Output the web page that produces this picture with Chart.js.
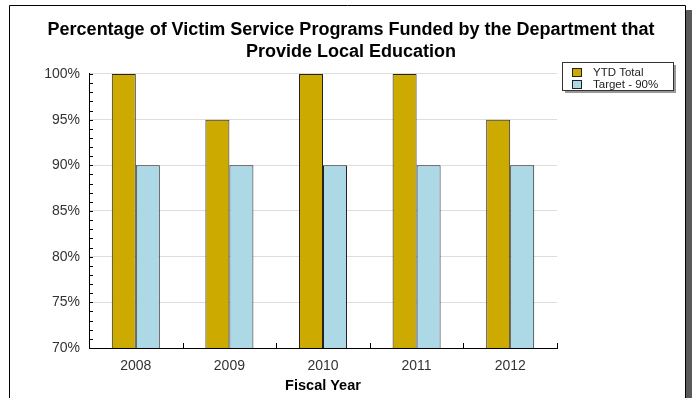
<!DOCTYPE html>
<html>
<head>
<meta charset="utf-8">
<script src="https://cdn.jsdelivr.net/npm/chart.js@4"></script>
<style>
  html, body { margin: 0; padding: 0; background: #fff; }
  #wrap { width: 694px; height: 398px; }
</style>
</head>
<body>
<div id="wrap"><canvas id="chart" width="694" height="398"></canvas></div>
<script>
// Dados
const years = ["2008", "2009", "2010", "2011", "2012"];
const ytdTotal = [100, 95, 100, 100, 95];
const target = [90, 90, 90, 90, 90];
const seriesNames = ["YTD Total", "Target - 90%"];
const titleLines = [
  "Percentage of Victim Service Programs Funded by the Department that",
  "Provide Local Education",
];

Chart.defaults.font.family = "'Liberation Sans', Arial, sans-serif";

// moldura com sombra
const framePlugin = {
  id: "frame",
  beforeDraw(chart) {
    const ctx = chart.ctx;
    ctx.save();
    ctx.fillStyle = "#fff";
    ctx.fillRect(0, 0, chart.width, chart.height);
    ctx.fillStyle = "#5a5a5a";
    ctx.fillRect(686, 10, 6, chart.height - 10);
    ctx.restore();
  },
  afterDraw(chart) {
    const ctx = chart.ctx;
    ctx.save();
    ctx.strokeStyle = "#000";
    ctx.lineWidth = 1;
    ctx.beginPath();
    ctx.moveTo(9.5, chart.height + 2);
    ctx.lineTo(9.5, 5.5);
    ctx.lineTo(685.5, 5.5);
    ctx.lineTo(685.5, chart.height + 2);
    ctx.stroke();
    ctx.restore();
  },
};

// marcas dos eixos (para dentro)
const ticksPlugin = {
  id: "innerTicks",
  afterDatasetsDraw(chart) {
    const ctx = chart.ctx;
    const x = chart.scales.x;
    const y = chart.scales.y;
    const area = chart.chartArea;
    ctx.save();
    ctx.strokeStyle = "#000";
    ctx.lineWidth = 1;
    ctx.beginPath();
    for (let v = y.min; v <= y.max; v++) {
      const py = Math.round(y.getPixelForValue(v)) + 0.5;
      ctx.moveTo(area.left, py);
      ctx.lineTo(area.left + 4, py);
    }
    for (let i = 0; i < years.length; i++) {
      const px = Math.round(x.getPixelForValue(i + 0.5)) + 0.5;
      ctx.moveTo(px, area.bottom);
      ctx.lineTo(px, area.bottom - 5);
    }
    ctx.stroke();
    ctx.restore();
  },
};

// legenda em caixa
const legendPlugin = {
  id: "boxLegend",
  afterDraw(chart) {
    const ctx = chart.ctx;
    const bx = 562, by = 62, bw = 111, bh = 28;
    ctx.save();
    ctx.fillStyle = "#999";
    ctx.fillRect(bx + 3, by + 3, bw, bh);
    ctx.fillStyle = "#fff";
    ctx.fillRect(bx, by, bw, bh);
    ctx.strokeStyle = "#333";
    ctx.lineWidth = 1;
    ctx.strokeRect(bx + 0.5, by + 0.5, bw, bh);
    ctx.font = "11.5px 'Liberation Sans', Arial, sans-serif";
    ctx.textBaseline = "middle";
    chart.data.datasets.forEach((ds, i) => {
      const sy = by + 6 + i * 12;
      ctx.fillStyle = ds.backgroundColor;
      ctx.fillRect(572, sy, 10, 9);
      ctx.strokeStyle = "#222";
      ctx.strokeRect(572.5, sy + 0.5, 9, 8);
      ctx.fillStyle = "#222";
      ctx.fillText(ds.label, 593, sy + 5);
    });
    ctx.restore();
  },
};

new Chart(document.getElementById("chart"), {
  type: "bar",
  data: {
    labels: years,
    datasets: [
      {
        label: seriesNames[0],
        data: ytdTotal,
        backgroundColor: "#CCAA00",
        borderColor: "#222",
        borderWidth: 1,
        borderSkipped: false,
        categoryPercentage: 0.513,
        barPercentage: 1,
      },
      {
        label: seriesNames[1],
        data: target,
        backgroundColor: "#ADD8E6",
        borderColor: "#222",
        borderWidth: 1,
        borderSkipped: false,
        categoryPercentage: 0.513,
        barPercentage: 1,
      },
    ],
  },
  options: {
    responsive: false,
    animation: false,
    devicePixelRatio: 1,
    layout: { padding: { left: 8, right: 0, top: 0, bottom: 0 } },
    plugins: {
      legend: { display: false },
      tooltip: { enabled: false },
      title: {
        display: true,
        text: titleLines,
        color: "#000",
        font: { size: 18, weight: "bold", lineHeight: 1.222 },
        padding: { top: 19, bottom: 11 },
      },
    },
    scales: {
      x: {
        grid: { display: false },
        border: { display: true, color: "#000", width: 1 },
        ticks: { color: "#333", font: { size: 14 }, padding: 2 },
        title: {
          display: true,
          text: "Fiscal Year",
          color: "#000",
          font: { size: 14.5, weight: "bold" },
          padding: { top: 0, bottom: 3 },
        },
        afterFit: (s) => { s.height = 50; },
      },
      y: {
        min: 70,
        max: 100,
        ticks: {
          stepSize: 5,
          color: "#333",
          font: { size: 14 },
          padding: 9,
          callback: (v) => v + "%",
        },
        grid: { color: "#dddddd", drawTicks: false },
        border: { display: true, color: "#000", width: 1 },
        afterFit: (s) => { s.width = 81; },
      },
      y2: {
        position: "right",
        min: 0,
        max: 1,
        grid: { display: false },
        border: { display: false },
        ticks: { display: false },
        afterFit: (s) => { s.width = 137; },
      },
    },
  },
  plugins: [framePlugin, ticksPlugin, legendPlugin],
});
</script>
</body>
</html>
